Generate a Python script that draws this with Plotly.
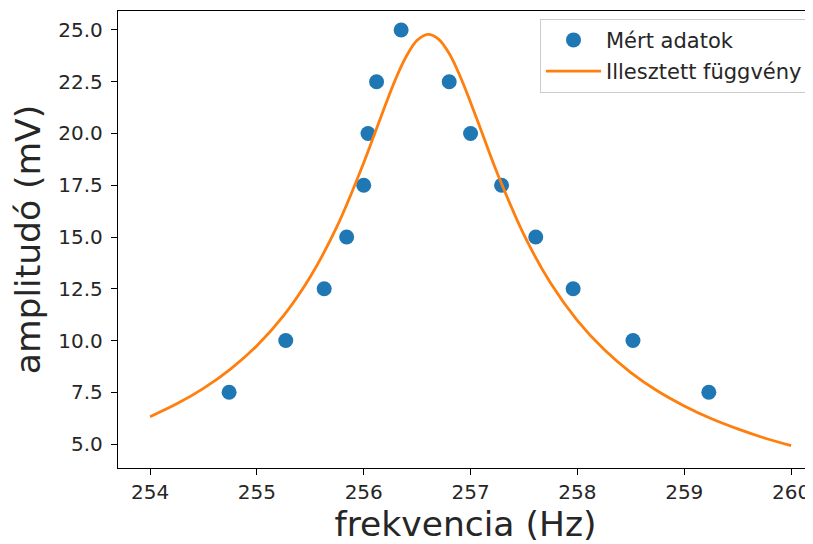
import plotly.graph_objects as go

# Measured data
freq_hz = [254.74, 255.27, 255.63, 255.84, 256.00, 256.04, 256.12, 256.35,
           256.80, 257.00, 257.29, 257.61, 257.96, 258.52, 259.23]
amp_mv = [7.5, 10.0, 12.5, 15.0, 17.5, 20.0, 22.5, 25.0,
          22.5, 20.0, 17.5, 15.0, 12.5, 10.0, 7.5]

# Fitted curve
fit_x = [254.0, 254.25, 254.5, 254.75, 255.0, 255.25, 255.5, 255.75, 256.0, 256.1,
         256.2, 256.3, 256.4, 256.5, 256.6, 256.7, 256.8, 256.9, 257.0, 257.1,
         257.25, 257.5, 257.75, 258.0, 258.25, 258.5, 258.75, 259.0, 259.25, 259.5,
         259.75, 260.0]
fit_y = [6.32, 6.94, 7.69, 8.61, 9.75, 11.20, 13.08, 15.51, 18.59, 19.96,
         21.34, 22.65, 23.74, 24.50, 24.79, 24.56, 23.86, 22.79, 21.50, 20.13,
         18.08, 15.10, 12.76, 10.96, 9.56, 8.45, 7.56, 6.84, 6.23, 5.73,
         5.29, 4.92]

x_ticks = [254, 255, 256, 257, 258, 259, 260]
y_ticks = [5.0, 7.5, 10.0, 12.5, 15.0, 17.5, 20.0, 22.5, 25.0]

FONT = "DejaVu Sans"
TXT = "#262626"

fig = go.Figure()
fig.add_trace(go.Scatter(
    x=freq_hz, y=amp_mv, mode="markers", name="Mért adatok", legendgroup="a",
    marker=dict(color="#1f77b4", size=15),
))
fig.add_trace(go.Scatter(
    x=fit_x, y=fit_y, mode="lines", name="Illesztett függvény", legendgroup="b",
    line=dict(color="#ff7f0e", width=2.8, shape="spline"),
))

# the page body has an 8px margin, so the figure is 8px smaller than the window
fig.update_layout(
    width=805, height=536,
    margin=dict(l=110, r=0, t=3, b=76, autoexpand=False),
    paper_bgcolor="white", plot_bgcolor="white",
    font=dict(family=FONT, size=20, color=TXT),
    showlegend=True,
    legend=dict(
        x=0.9928, y=0.983, xanchor="right", yanchor="top",
        bgcolor="white", bordercolor="#cccccc", borderwidth=1,
        font=dict(family=FONT, size=21, color=TXT),
        tracegroupgap=1, itemwidth=55,
    ),
    xaxis=dict(
        range=[253.7, 260.205], tickvals=x_ticks,
        ticktext=[str(v) for v in x_ticks],
        showgrid=False, zeroline=False, automargin=False,
        ticklabeloverflow="allow",
        showline=True, linecolor="black", linewidth=1.3, mirror=True,
        ticks="outside", ticklen=6, tickwidth=1.3, tickcolor="black",
        title=dict(text="frekvencia (Hz)", font=dict(family=FONT, size=34.5, color=TXT), standoff=15),
    ),
    yaxis=dict(
        range=[3.841, 25.917], tickvals=y_ticks,
        ticktext=[f"{v:.1f}" for v in y_ticks],
        showgrid=False, zeroline=False, automargin=False,
        ticklabeloverflow="allow",
        showline=True, linecolor="black", linewidth=1.3,
        ticks="outside", ticklen=6, tickwidth=1.3, tickcolor="black",
        ticklabelstandoff=4,
        title=dict(text="amplitudó (mV)", font=dict(family=FONT, size=34.5, color=TXT), standoff=10),
    ),
)

fig.write_html("out.html")
